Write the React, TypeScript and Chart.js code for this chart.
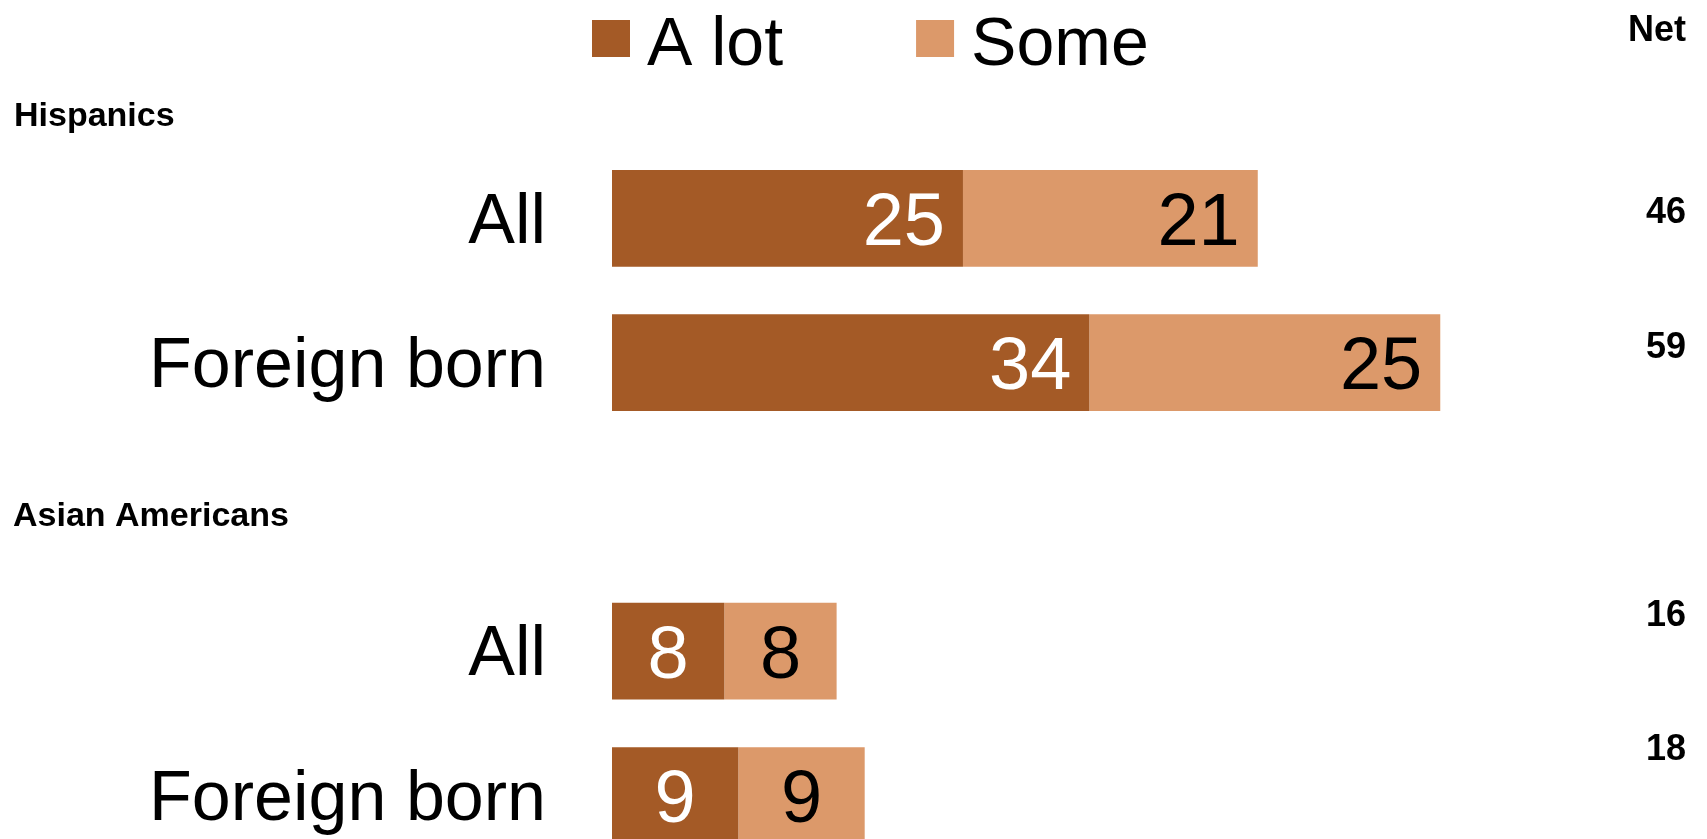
import React, { useEffect, useRef } from 'react';
import { Chart, registerables } from 'chart.js';

Chart.register(...registerables);

// ---- Data ----
const CATEGORIES = ['', 'All', 'Foreign born', '', 'All', 'Foreign born'];
const A_LOT = [null, 25, 34, null, 8, 9];
const SOME = [null, 21, 25, null, 8, 9];
const NET = [null, 46, 59, null, 16, 18];
const SERIES_LABELS = ['A lot', 'Some'];
const GROUP_HEADERS = ['Hispanics', 'Asian Americans'];
const NET_TITLE = 'Net';
const X_MAX = 78;

// ---- Layout / style ----
const W = 1707;
const H = 839;
const CHART_LEFT = 612;
const COLORS = ['#A45A26', '#DC996A'];
const LABEL_COLORS = ['#FFFFFF', '#000000'];
const FONT = '"Liberation Sans", Arial, sans-serif';
const CAP = 0.716;
const NET_NUDGE = [0, -8, -17, 0, -38, -48];
const HEADER_POS = [
  { x: 14, baseline: 126 },
  { x: 13, baseline: 526 },
];

const overlayPlugin = {
  id: 'overlay',
  afterDatasetsDraw(chart: any) {
    const ctx = chart.ctx;
    ctx.save();
    const size = 74;
    ctx.font = `${size}px ${FONT}`;
    chart.data.datasets.forEach((ds: any, di: number) => {
      const meta = chart.getDatasetMeta(di);
      meta.data.forEach((bar: any, i: number) => {
        const v = ds.data[i];
        if (v === null || v === undefined) return;
        const p = bar.getProps(['x', 'base', 'y'], true);
        const left = Math.min(p.x, p.base);
        const right = Math.max(p.x, p.base);
        const w = right - left;
        ctx.fillStyle = LABEL_COLORS[di];
        ctx.textBaseline = 'alphabetic';
        const by = p.y + (size * CAP) / 2;
        if (w < 200) {
          ctx.textAlign = 'center';
          ctx.fillText(String(v), (left + right) / 2, by);
        } else {
          ctx.textAlign = 'right';
          ctx.fillText(String(v), right - 18, by);
        }
      });
    });
    ctx.restore();
  },
  afterDraw(chart: any) {
    const ctx = chart.ctx;
    const yScale = chart.scales.y;
    ctx.save();
    // Legend
    ctx.font = `68px ${FONT}`;
    ctx.textBaseline = 'alphabetic';
    ctx.textAlign = 'left';
    let x = 592;
    chart.data.datasets.forEach((ds: any, di: number) => {
      ctx.fillStyle = ds.backgroundColor;
      ctx.fillRect(x, 20, 38, 37);
      ctx.fillStyle = '#000';
      ctx.fillText(ds.label, x + 38 + 17, 65);
      x += 38 + 17 + ctx.measureText(ds.label).width + 133;
    });
    // Group headers
    ctx.font = `bold 34px ${FONT}`;
    ctx.fillStyle = '#000';
    GROUP_HEADERS.forEach((h, i) => {
      ctx.fillText(h, HEADER_POS[i].x, HEADER_POS[i].baseline);
    });
    // Net column
    ctx.textAlign = 'right';
    ctx.font = `bold 36px ${FONT}`;
    ctx.fillText(NET_TITLE, 1686, 41);
    NET.forEach((n, i) => {
      if (n === null) return;
      const y = yScale.getPixelForValue(i) + NET_NUDGE[i];
      ctx.fillText(String(n), 1686, y + (36 * CAP) / 2);
    });
    ctx.restore();
  },
};

export default function App() {
  const ref = useRef<HTMLCanvasElement | null>(null);
  useEffect(() => {
    if (!ref.current) return;
    const chart = new Chart(ref.current, {
      type: 'bar',
      data: {
        labels: CATEGORIES,
        datasets: [
          {
            label: SERIES_LABELS[0],
            data: A_LOT,
            backgroundColor: COLORS[0],
            borderWidth: 0,
            clip: false,
          } as any,
          {
            label: SERIES_LABELS[1],
            data: SOME,
            backgroundColor: COLORS[1],
            borderWidth: 0,
            clip: false,
          } as any,
        ],
      },
      options: {
        indexAxis: 'y',
        responsive: false,
        animation: false,
        events: [],
        layout: { autoPadding: false, padding: { top: 74, bottom: 43.5, left: 0, right: 0 } },
        datasets: { bar: { categoryPercentage: 1, barPercentage: 0.67 } },
        plugins: {
          legend: { display: false },
          tooltip: { enabled: false },
          title: { display: false },
        },
        scales: {
          x: {
            display: false,
            stacked: true,
            min: 0,
            max: X_MAX,
          },
          y: {
            stacked: true,
            offset: false,
            grid: { display: false, drawTicks: false },
            border: { display: false },
            ticks: {
              padding: 66,
              labelOffset: 5,
              color: '#000',
              font: { family: FONT, size: 70 },
              autoSkip: false,
            },
            afterFit: (scale: any) => {
              scale.width = CHART_LEFT;
              scale.paddingTop = 0;
              scale.paddingBottom = 0;
            },
          },
        },
      } as any,
      plugins: [overlayPlugin],
    });
    return () => chart.destroy();
  }, []);
  return (
    <div style={{ position: 'fixed', left: 0, top: 0, width: W, height: H, background: '#fff' }}>
      <canvas ref={ref} width={W} height={H} style={{ width: W, height: H, display: 'block' }} />
    </div>
  );
}
